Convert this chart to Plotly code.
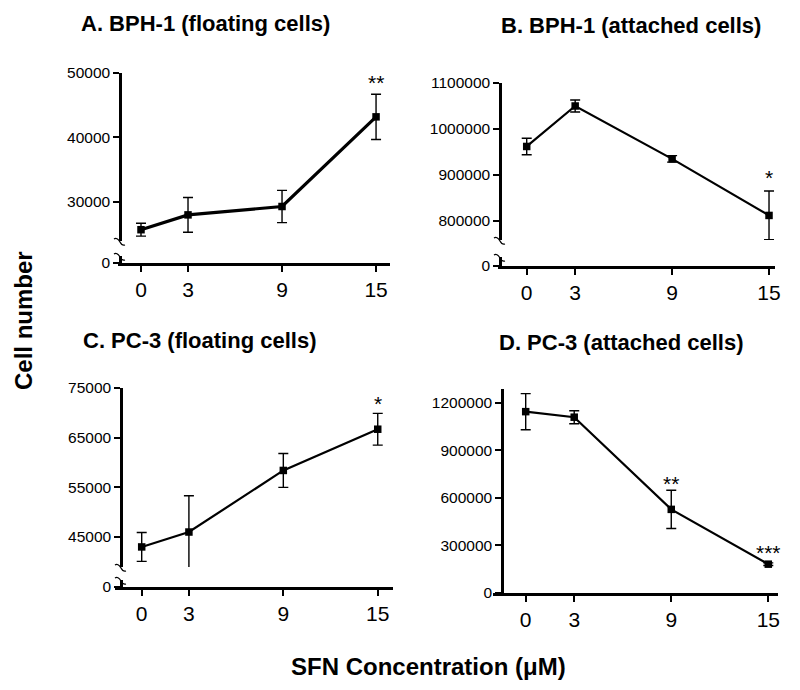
import plotly.graph_objects as go

# page body has an 8px margin; the figure is sized to fit the 800x690 window
OFF = 8
W, H = 800 - 2 * OFF, 690 - 2 * OFF

# ---------------- data ----------------
doses = [0, 3, 9, 15]
dose_labels = ["0", "3", "9", "15"]

a_mean = [25700, 28000, 29300, 43200]
a_err = [1000, 2700, 2500, 3500]
a_stars = ["", "", "", "**"]
a_ticks = [30000, 40000, 50000]

b_mean = [962000, 1050000, 935000, 812000]
b_err = [18000, 13000, 7000, 53000]
b_stars = ["", "", "", "*"]
b_ticks = [800000, 900000, 1000000, 1100000]

c_mean = [43000, 46000, 58400, 66700]
c_err = [2900, 7300, 3400, 3200]
c_stars = ["", "", "", "*"]
c_ticks = [45000, 55000, 65000, 75000]

d_mean = [1145000, 1110000, 528000, 182000]
d_err = [114000, 41000, 121000, 8000]
d_stars = ["", "", "**", "***"]
d_ticks = [0, 300000, 600000, 900000, 1200000]

titles = ["A. BPH-1 (floating cells)", "B. BPH-1 (attached cells)",
          "C. PC-3 (floating cells)", "D. PC-3 (attached cells)"]
y_title = "Cell number"
x_title = "SFN Concentration (μM)"

# ---------------- layout helpers (window pixels -> paper) ----------------
def px(x):
    return (x - OFF) / W

def py(y):
    return 1 - (y - OFF) / H

FONT = "Liberation Sans, Arial, sans-serif"

panels = [
    dict(mean=a_mean, err=a_err, stars=a_stars, ticks=a_ticks, title=titles[0],
         yx=120, x=(118, 390), xr=[-1.468, 15.89], main=(73, 241), yr=[23950, 50000],
         small=(256, 263), tpos=(206, 23), lw=3.2, star_shift=[0, 0, 0, -2]),
    dict(mean=b_mean, err=b_err, stars=b_stars, ticks=b_ticks, title=titles[1],
         yx=500, x=(498, 775), xr=[-1.777, 15.37], main=(83, 240), yr=[758600, 1100000],
         small=(257, 266), tpos=(631, 25), lw=2.2, star_shift=[0, 0, 0, 0]),
    dict(mean=c_mean, err=c_err, stars=c_stars, ticks=c_ticks, title=titles[2],
         yx=121, x=(115, 393), xr=[-1.697, 15.97], main=(388, 567), yr=[38960, 75000],
         small=(580, 587), tpos=(199, 340), lw=2.2, star_shift=[0, 0, 0, -4]),
    dict(mean=d_mean, err=d_err, stars=d_stars, ticks=d_ticks, title=titles[3],
         yx=502, x=(493, 778), xr=[-2.022, 15.6], main=(389, 593), yr=[0, 1288000],
         small=None, tpos=(621, 342), lw=2.2, star_shift=[0, 0, -7, -3]),
]

fig = go.Figure()
layout = {}
annotations = []
shapes = []

axis_common = dict(showline=True, linecolor="black", linewidth=2.5,
                   ticks="outside", ticklen=6, tickwidth=2, tickcolor="black",
                   showgrid=False, zeroline=False, fixedrange=True,
                   automargin=False)

YT = 15.5   # y tick font size
XT = 21     # x tick font size

yidx = 1
for i, p in enumerate(panels):
    xn = i + 1
    xname = "xaxis" if xn == 1 else f"xaxis{xn}"
    xref = "x" if xn == 1 else f"x{xn}"
    if p["small"] is not None:
        s_id = yidx
        m_id = yidx + 1
        yidx += 2
    else:
        s_id = None
        m_id = yidx
        yidx += 1
    mref = "y" if m_id == 1 else f"y{m_id}"
    mname = "yaxis" if m_id == 1 else f"yaxis{m_id}"
    anchor_y = mref
    if s_id is not None:
        sref = "y" if s_id == 1 else f"y{s_id}"
        sname = "yaxis" if s_id == 1 else f"yaxis{s_id}"
        anchor_y = sref
        layout[sname] = dict(axis_common, domain=[py(p["small"][1]), py(p["small"][0])],
                             range=[0, 1], tickvals=[0], ticktext=["0"],
                             anchor="free", position=px(p["yx"]),
                             tickfont=dict(family=FONT, size=YT, color="black"))
        # register the small (zero) subplot, no marks drawn on it
        fig.add_trace(go.Scatter(x=[], y=[], xaxis=xref, yaxis=sref, mode="markers",
                                 showlegend=False, hoverinfo="skip"))
    layout[xname] = dict(axis_common, domain=[px(p["x"][0]), px(p["x"][1])],
                         range=p["xr"], tickvals=doses, ticktext=dose_labels,
                         anchor=anchor_y,
                         tickfont=dict(family=FONT, size=XT, color="black"))
    layout[mname] = dict(axis_common, domain=[py(p["main"][1]), py(p["main"][0])],
                         range=p["yr"], tickvals=p["ticks"],
                         ticktext=[str(t) for t in p["ticks"]],
                         anchor="free", position=px(p["yx"]),
                         tickfont=dict(family=FONT, size=YT, color="black"))

    fig.add_trace(go.Scatter(
        x=doses, y=p["mean"], xaxis=xref, yaxis=mref, mode="lines+markers",
        line=dict(color="black", width=p["lw"]),
        marker=dict(symbol="square", size=7.5, color="black"),
        error_y=dict(type="data", array=p["err"], visible=True, color="black",
                     thickness=1.4, width=5),
        showlegend=False, hoverinfo="skip"))

    for d, m, e, s, sh in zip(doses, p["mean"], p["err"], p["stars"], p["star_shift"]):
        if s:
            annotations.append(dict(x=d, y=m + e, xref=xref, yref=mref, text=s,
                                    showarrow=False, xanchor="center", yanchor="bottom",
                                    yshift=sh,
                                    font=dict(family=FONT, size=21, color="black")))

    annotations.append(dict(x=px(p["tpos"][0]), y=py(p["tpos"][1]), xref="paper",
                            yref="paper", text="<b>" + p["title"] + "</b>",
                            showarrow=False, xanchor="center", yanchor="middle",
                            font=dict(family=FONT, size=22, color="black")))

    # axis-break marks
    if p["small"] is not None:
        ax = p["yx"]
        for yb in (p["main"][1] + 1, p["small"][0] + 1):
            path = (f"M {px(ax-6)},{py(yb-3)} Q {px(ax-3)},{py(yb-5)} {px(ax)},{py(yb)} "
                    f"Q {px(ax+2)},{py(yb+4)} {px(ax+5)},{py(yb+3)}")
            shapes.append(dict(type="path", path=path, xref="paper", yref="paper",
                               line=dict(color="black", width=1.3)))

annotations.append(dict(x=px(23), y=py(321), xref="paper", yref="paper",
                        text="<b>" + y_title + "</b>", showarrow=False, textangle=-90,
                        xanchor="center", yanchor="middle",
                        font=dict(family=FONT, size=24, color="black")))
annotations.append(dict(x=px(428), y=py(666), xref="paper", yref="paper",
                        text="<b>" + x_title + "</b>", showarrow=False,
                        xanchor="center", yanchor="middle",
                        font=dict(family=FONT, size=24, color="black")))

fig.update_layout(**layout)
fig.update_layout(width=W, height=H, margin=dict(l=0, r=0, t=0, b=0, autoexpand=False),
                  paper_bgcolor="white", plot_bgcolor="white",
                  annotations=annotations, shapes=shapes,
                  font=dict(family=FONT, color="black"))

fig.write_html("out.html")
